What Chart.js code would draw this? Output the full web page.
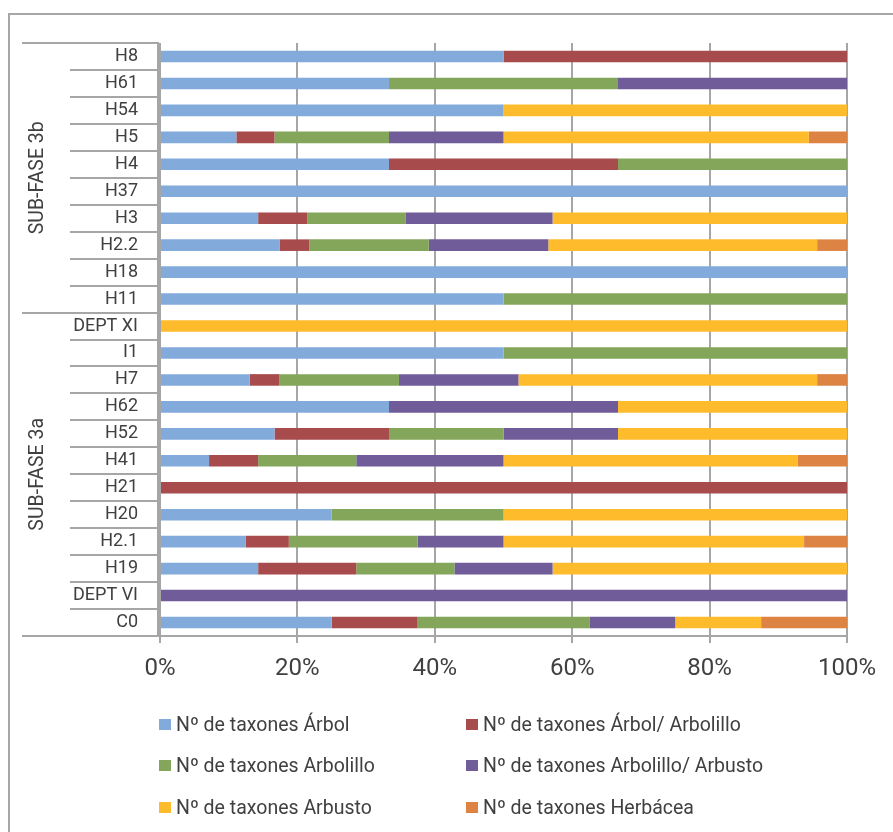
<!DOCTYPE html>
<html>
<head>
<meta charset="utf-8">
<script src="https://cdn.jsdelivr.net/npm/chart.js@4.4.1/dist/chart.umd.min.js"></script>
<style>
  html, body { margin: 0; padding: 0; background: #ffffff; }
  #wrap { position: relative; width: 893px; height: 832px; overflow: hidden; font-family: Roboto, "Liberation Sans", sans-serif; }
  #frame { position: absolute; left: 8px; top: 13px; width: 900px; height: 900px; border-left: 2px solid #A6A6A6; border-top: 2px solid #A6A6A6; box-sizing: border-box; }
  #chart { position: absolute; left: 0; top: 0; }
  .lg { position: absolute; display: flex; align-items: center; font-size: 19.5px; color: #404040; white-space: nowrap; }
  .lg span.box { display: inline-block; width: 12px; height: 11px; margin-right: 5px; }
</style>
</head>
<body>
<div id="wrap">
  <div id="frame"></div>
  <canvas id="chart" width="893" height="832"></canvas>
  <div id="legend"></div>
</div>
<script>
// Sample labels, top to bottom
const categories = ['H8', 'H61', 'H54', 'H5', 'H4', 'H37', 'H3', 'H2.2', 'H18', 'H11',
  'DEPT XI', 'I1', 'H7', 'H62', 'H52', 'H41', 'H21', 'H20', 'H2.1', 'H19', 'DEPT VI', 'C0'];

// Sub-phase groups (in the same top-to-bottom order) and how many samples each holds
const groupNames = ['SUB-FASE 3b', 'SUB-FASE 3a'];
const groupSizes = [10, 12];

// Number of taxa per growth form
const arbol            = [1, 1, 1, 2, 1, 1, 2, 4, 1, 1, 0, 1, 3, 1, 1, 1, 0, 1, 2, 2, 0, 2];
const arbolArbolillo   = [1, 0, 0, 1, 1, 0, 1, 1, 0, 0, 0, 0, 1, 0, 1, 1, 1, 0, 1, 2, 0, 1];
const arbolillo        = [0, 1, 0, 3, 1, 0, 2, 4, 0, 1, 0, 1, 4, 0, 1, 2, 0, 1, 3, 2, 0, 2];
const arbolilloArbusto = [0, 1, 0, 3, 0, 0, 3, 4, 0, 0, 0, 0, 4, 1, 1, 3, 0, 0, 2, 2, 1, 1];
const arbusto          = [0, 0, 1, 8, 0, 0, 6, 9, 0, 0, 1, 0, 10, 1, 2, 6, 0, 2, 7, 6, 0, 1];
const herbacea         = [0, 0, 0, 1, 0, 0, 0, 1, 0, 0, 0, 0, 1, 0, 0, 1, 0, 0, 1, 0, 0, 1];

const seriesNames = ['Nº de taxones Árbol', 'Nº de taxones Árbol/ Arbolillo', 'Nº de taxones Arbolillo',
  'Nº de taxones Arbolillo/ Arbusto', 'Nº de taxones Arbusto', 'Nº de taxones Herbácea'];

// Percent-axis ticks
const xTicks = [0, 20, 40, 60, 80, 100];

const seriesCounts = [arbol, arbolArbolillo, arbolillo, arbolilloArbusto, arbusto, herbacea];
const seriesColors = ['#82ABDC', '#A74B4C', '#84A65B', '#705C98', '#FEBB2B', '#DD8445'];

// Convert counts to share of each sample's total (100% stacked)
const totals = categories.map((_, i) => seriesCounts.reduce((s, arr) => s + arr[i], 0));
const datasets = seriesCounts.map((arr, k) => ({
  label: seriesNames[k],
  data: arr.map((v, i) => totals[i] ? v / totals[i] * 100 : 0),
  backgroundColor: seriesColors[k],
  borderWidth: 0,
  barPercentage: 0.43,
  categoryPercentage: 1.0
}));

const AXIS_GREY = '#A6A6A6';
const TEXT = '#404040';
const FONT = 'Roboto, "Liberation Sans", sans-serif';

// Multi-level category axis: separator lines and rotated group captions
const groupAxis = {
  id: 'groupAxis',
  afterDraw(chart) {
    const ctx = chart.ctx;
    const area = chart.chartArea;
    const n = categories.length;
    const step = (area.bottom - area.top) / n;
    const groupEdges = [0];
    groupSizes.forEach(s => groupEdges.push(groupEdges[groupEdges.length - 1] + s));

    ctx.save();
    ctx.strokeStyle = AXIS_GREY;
    ctx.lineWidth = 2;
    for (let i = 0; i <= n; i++) {
      const y = Math.round(area.top + i * step);
      const isGroupEdge = groupEdges.includes(i);
      const x0 = isGroupEdge ? 22 : 70;
      const x1 = i === n ? area.right : area.left - 1;
      ctx.beginPath();
      ctx.moveTo(x0, y);
      ctx.lineTo(x1, y);
      ctx.stroke();
    }
    // vertical axis line beside the labels
    ctx.beginPath();
    ctx.moveTo(area.left - 2, area.top);
    ctx.lineTo(area.left - 2, area.bottom);
    ctx.stroke();

    ctx.fillStyle = TEXT;
    ctx.font = '19.5px ' + FONT;
    ctx.textAlign = 'center';
    ctx.textBaseline = 'middle';
    groupNames.forEach((name, g) => {
      const yc = area.top + (groupEdges[g] + groupEdges[g + 1]) / 2 * step;
      ctx.save();
      ctx.translate(38, yc);
      ctx.rotate(-Math.PI / 2);
      ctx.fillText(name, 0, 0);
      ctx.restore();
    });
    ctx.restore();
  }
};

const chart = new Chart(document.getElementById('chart'), {
  type: 'bar',
  data: { labels: categories, datasets },
  options: {
    indexAxis: 'y',
    responsive: false,
    animation: false,
    devicePixelRatio: 1,
    layout: { padding: { left: 0, right: 46, top: 43, bottom: 136 } },
    plugins: { legend: { display: false }, tooltip: { enabled: false } },
    scales: {
      x: {
        stacked: true,
        min: 0,
        max: 100,
        afterBuildTicks(scale) { scale.ticks = xTicks.map(v => ({ value: v })); },
        afterFit(scale) { scale.height = 60; },
        ticks: {
          callback: v => v + '%',
          color: TEXT,
          font: { family: FONT, size: 24 },
          padding: 12,
          maxRotation: 0
        },
        grid: { color: AXIS_GREY, lineWidth: 2, tickLength: 7, drawTicks: true },
        border: { display: false }
      },
      y: {
        stacked: true,
        afterFit(scale) { scale.width = 160; },
        ticks: {
          color: TEXT,
          font: { family: FONT, size: 18 },
          padding: 22,
          autoSkip: false
        },
        grid: { display: false, drawTicks: false },
        border: { display: false }
      }
    }
  },
  plugins: [groupAxis]
});

// Two-column legend built from the chart's datasets
const legend = document.getElementById('legend');
const legendCols = [159, 466];
const legendRows = [724, 765, 807];
chart.data.datasets.forEach((ds, i) => {
  const item = document.createElement('div');
  item.className = 'lg';
  item.style.left = legendCols[i % 2] + 'px';
  item.style.top = (legendRows[Math.floor(i / 2)] - 13) + 'px';
  item.style.height = '26px';
  const box = document.createElement('span');
  box.className = 'box';
  box.style.background = ds.backgroundColor;
  item.appendChild(box);
  item.appendChild(document.createTextNode(ds.label));
  legend.appendChild(item);
});
</script>
</body>
</html>
